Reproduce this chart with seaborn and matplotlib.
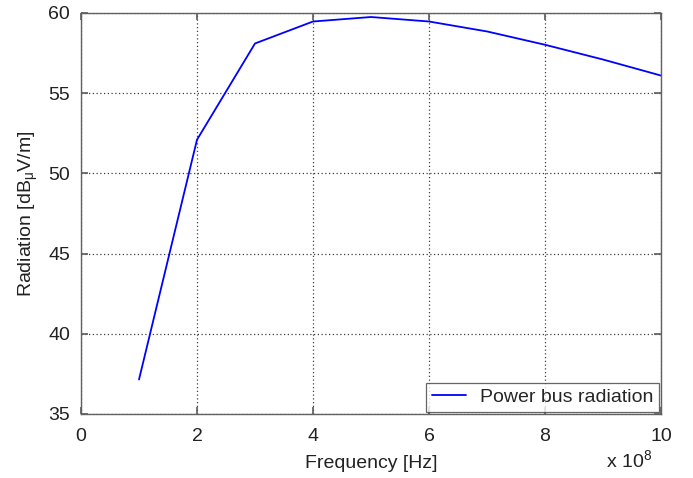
import matplotlib
matplotlib.use("Agg")
import matplotlib.pyplot as plt
import seaborn as sns
import pandas as pd

freq_e8 = [1, 2, 3, 4, 5, 6, 7, 8, 9, 10]
radiation = [37.15, 52.1, 58.1, 59.47, 59.75, 59.47, 58.85, 58.02, 57.1, 56.1]
series_label = "Power bus radiation"
x_ticks = [0, 2, 4, 6, 8, 10]
y_ticks = [35, 40, 45, 50, 55, 60]

sns.set_theme(style="white")
plt.rcParams['font.family'] = ['Liberation Sans', 'DejaVu Sans']
plt.rcParams['mathtext.fontset'] = 'custom'
plt.rcParams['mathtext.rm'] = 'Liberation Sans'
plt.rcParams['mathtext.it'] = 'Liberation Sans'

df = pd.DataFrame({"freq": [f * 1e8 for f in freq_e8], "rad": radiation, "s": series_label})

fs = 14
txt = "#222222"
fig = plt.figure(figsize=(6.93, 4.78), dpi=100)
ax = fig.add_axes([81/693, 1 - 414/478, 580/693, 401/478])
sns.lineplot(data=df, x="freq", y="rad", ax=ax, color="#0000ff", linewidth=1.3,
             label=series_label, legend=False)

ax.set_xlim(0, 1e9)
ax.set_ylim(35, 60)
ax.set_xticks([v * 1e8 for v in x_ticks])
ax.set_xticklabels([str(v) for v in x_ticks])
ax.set_yticks(y_ticks)
ax.set_yticklabels([str(v) for v in y_ticks])
ax.grid(True, linestyle=(0, (1, 2)), color="#404040", linewidth=0.9)
for s in ax.spines.values():
    s.set_color("#606060")
    s.set_linewidth(1.0)
ax.tick_params(direction="in", length=5, color="#606060", labelsize=fs,
               top=True, right=True, bottom=True, left=True, pad=8, labelcolor=txt)
ax.tick_params(axis="x", pad=10)
ax.set_xlabel("Frequency [Hz]", fontsize=fs, color=txt, labelpad=7)
ax.set_ylabel(r"Radiation [dB$_{\mathrm{μ}}$V/m]", fontsize=fs, color=txt, labelpad=6)
ax.text(0.985, -0.087, r"x 10$^{8}$", transform=ax.transAxes, ha="right", va="top",
        fontsize=fs, color=txt)

leg = ax.legend(loc="lower right", fontsize=fs, frameon=True, fancybox=False,
                borderaxespad=0.1, handlelength=1.75, borderpad=0.3, handletextpad=0.7)
leg.get_frame().set_edgecolor("#404040")
leg.get_frame().set_linewidth(0.9)

fig.savefig("out.png", dpi=100)
